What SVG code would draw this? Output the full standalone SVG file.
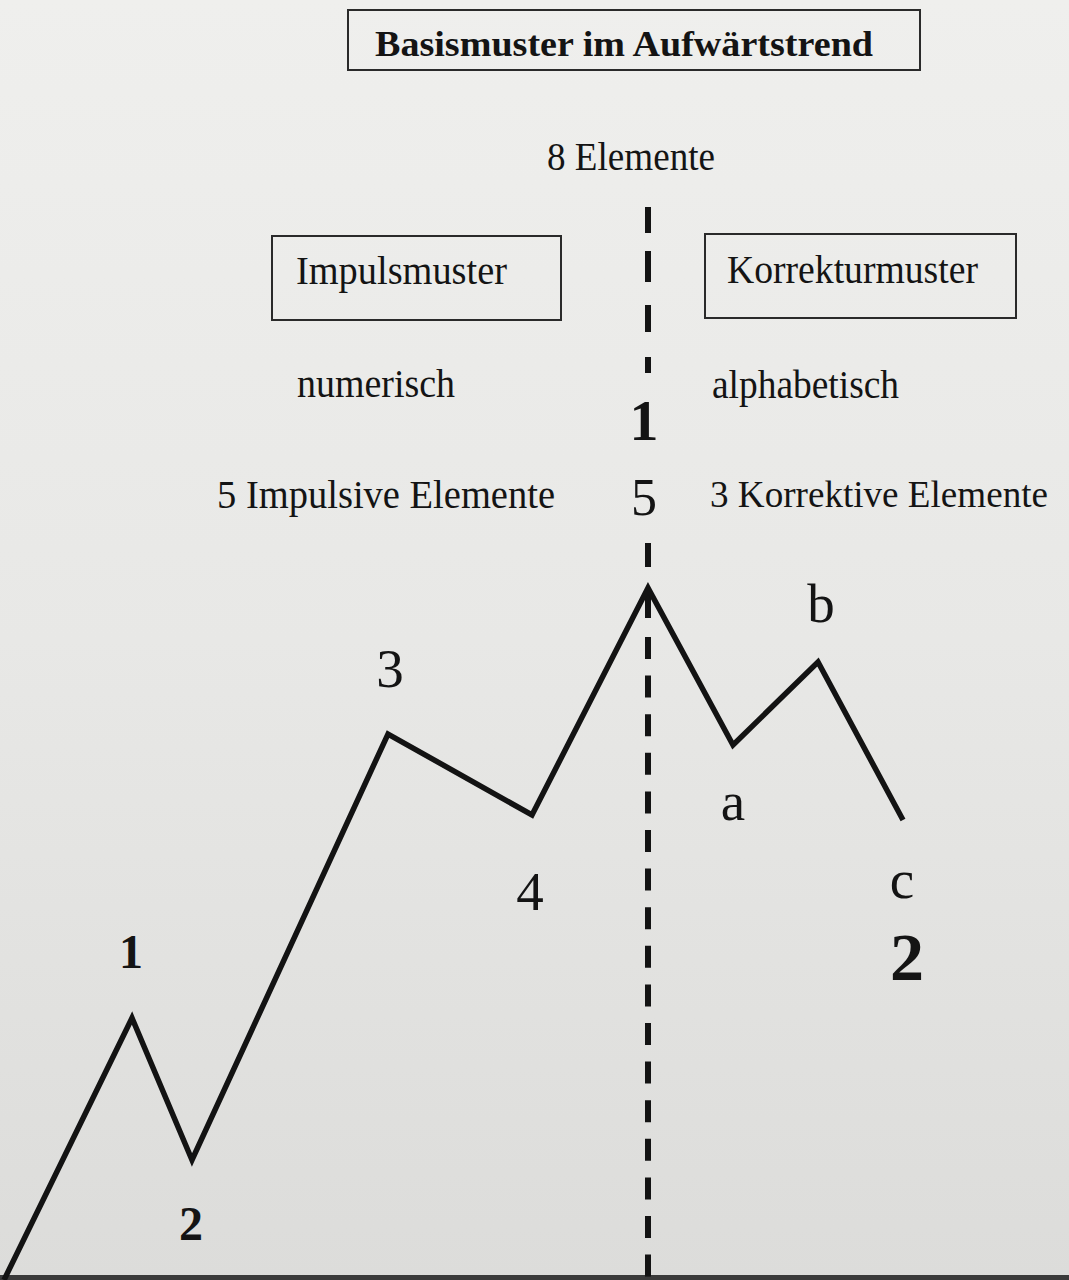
<svg xmlns="http://www.w3.org/2000/svg" width="1069" height="1280" viewBox="0 0 1069 1280">
<defs>
<linearGradient id="bg" x1="0" y1="0" x2="0" y2="1">
<stop offset="0" stop-color="#efefed"/>
<stop offset="0.5" stop-color="#e8e8e6"/>
<stop offset="1" stop-color="#dcdcda"/>
</linearGradient>
<style>
.t{font-family:"Liberation Serif","Times New Roman",serif;fill:#141414}
.b{font-weight:bold}
.body{font-size:40px}
.lbl{font-size:55px;text-anchor:middle}
.box{fill:none;stroke:#2a2a2a;stroke-width:2}
.wave{fill:none;stroke:#131313;stroke-width:5.5;stroke-linejoin:miter;stroke-linecap:butt}
.dash{fill:none;stroke:#131313;stroke-width:6}
</style>
</defs>
<rect width="1069" height="1280" fill="url(#bg)"/>
<rect x="0" y="1275" width="1069" height="5" fill="#3a3a3a"/>

<g id="connectors">
<path class="dash" d="M648 207V233M648 251V282M648 305V332M648 357V373M648 543V567"/>
<line class="dash" x1="648" y1="588" x2="648" y2="618"/>
<line class="dash" x1="648" y1="637" x2="648" y2="1280" stroke-dasharray="22 16.6"/>
<polyline class="wave" points="4,1280 132,1018 192,1160 388,734 532,815 648,588 733,745 818,662 903,820"/>
</g>

<g id="title">
<rect class="box" x="348" y="10" width="572" height="60"/>
<text class="t b" x="375" y="56" font-size="36" textLength="498" lengthAdjust="spacingAndGlyphs">Basismuster im Aufwärtstrend</text>
</g>

<g id="elements">
<text class="t body" x="547" y="170" textLength="168" lengthAdjust="spacingAndGlyphs">8 Elemente</text>
</g>

<g id="impulsmuster">
<rect class="box" x="272" y="236" width="289" height="84"/>
<text class="t body" x="296" y="284" textLength="211" lengthAdjust="spacingAndGlyphs">Impulsmuster</text>
</g>

<g id="korrekturmuster">
<rect class="box" x="705" y="234" width="311" height="84"/>
<text class="t body" x="727" y="283" textLength="251" lengthAdjust="spacingAndGlyphs">Korrekturmuster</text>
</g>

<g id="numerisch">
<text class="t body" x="297" y="397" textLength="158" lengthAdjust="spacingAndGlyphs">numerisch</text>
</g>
<g id="alphabetisch">
<text class="t body" x="712" y="398" textLength="187" lengthAdjust="spacingAndGlyphs">alphabetisch</text>
</g>
<g id="impulsive">
<text class="t body" x="217" y="508" textLength="338" lengthAdjust="spacingAndGlyphs">5 Impulsive Elemente</text>
</g>
<g id="korrektive">
<text class="t" x="710" y="507" font-size="37" textLength="338" lengthAdjust="spacingAndGlyphs">3 Korrektive Elemente</text>
</g>

<g id="center-1"><text class="t b" x="644" y="440" font-size="58" text-anchor="middle">1</text></g>
<g id="center-5"><text class="t" x="644" y="515" font-size="52" text-anchor="middle">5</text></g>

<g id="wave-1"><text class="t b" x="131" y="968" font-size="48" text-anchor="middle">1</text></g>
<g id="wave-2"><text class="t b" x="191" y="1240" font-size="48" text-anchor="middle">2</text></g>
<g id="wave-3"><text class="t lbl" x="390" y="687">3</text></g>
<g id="wave-4"><text class="t lbl" x="530" y="910">4</text></g>
<g id="wave-a"><text class="t lbl" x="733" y="820">a</text></g>
<g id="wave-b"><text class="t lbl" x="821" y="622">b</text></g>
<g id="wave-c"><text class="t lbl" x="902" y="898">c</text></g>
<g id="cycle-2"><text class="t b" x="907" y="980" font-size="68" text-anchor="middle">2</text></g>
</svg>
